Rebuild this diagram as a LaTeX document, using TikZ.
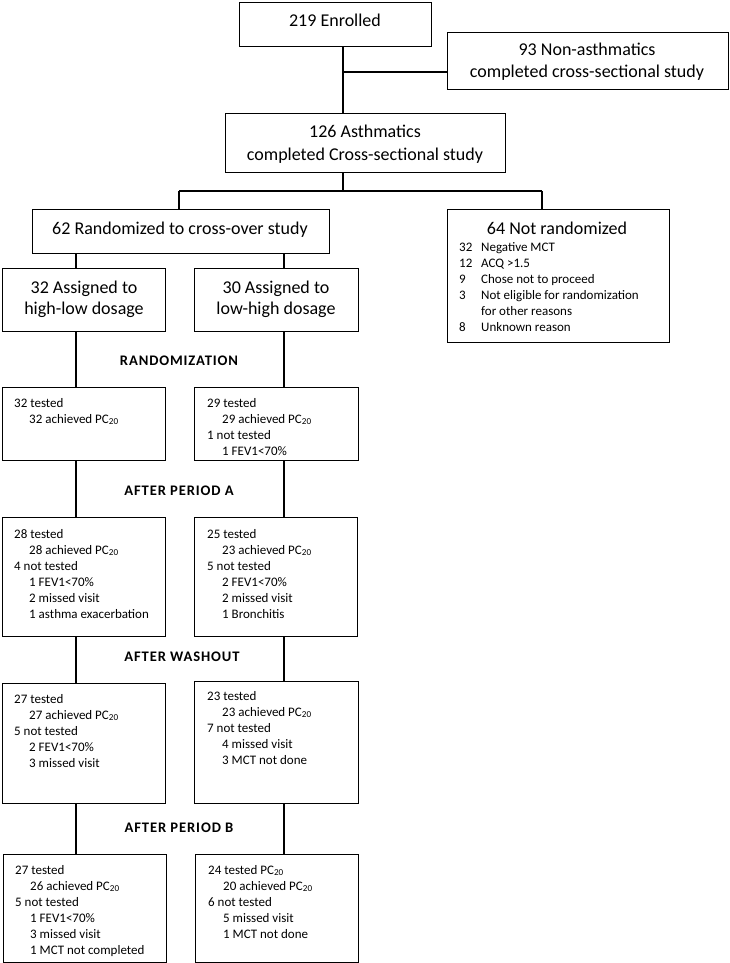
\documentclass[tikz,border=0pt]{standalone}
\usepackage{fontspec}
\setmainfont{Carlito}
\newfontfamily\headfont[LetterSpace=6]{Carlito}
\begin{document}
\begin{tikzpicture}[x=1pt,y=-1pt,
  box/.style={draw, line width=1.1pt, inner sep=0pt, anchor=north west},
  ttl/.style={anchor=base, inner sep=0pt, font=\fontsize{18}{22}\selectfont},
  txt/.style={anchor=base west, inner sep=0pt, font=\fontsize{13}{16}\selectfont},
  hd/.style={anchor=base, inner sep=0pt, font=\headfont\bfseries\fontsize{14.6}{17}\selectfont},
  conn/.style={line width=1.2pt}]
\useasboundingbox (0,0) rectangle (729,963);
% top boxes
\node[box, minimum width=192pt, minimum height=44pt] (E219) at (239,2) {};
\node[box, minimum width=281pt, minimum height=57pt] (N93) at (447,32) {};
\node[box, minimum width=280pt, minimum height=59pt] (A126) at (225,113) {};
\node[box, minimum width=297pt, minimum height=44pt] (R62) at (32,209) {};
\node[box, minimum width=222pt, minimum height=133pt] (NR64) at (447,209) {};
\node[box, minimum width=163pt, minimum height=63pt] (A32) at (2,268) {};
\node[box, minimum width=164pt, minimum height=63pt] (A30) at (194,268) {};
% column boxes
\node[box, minimum width=163pt, minimum height=73pt] (L1) at (2,387) {};
\node[box, minimum width=164pt, minimum height=73pt] (R1) at (194,387) {};
\node[box, minimum width=163pt, minimum height=119pt] (L2) at (2,517) {};
\node[box, minimum width=163pt, minimum height=119pt] (R2) at (194,517) {};
\node[box, minimum width=163pt, minimum height=120pt] (L3) at (2,683) {};
\node[box, minimum width=164pt, minimum height=122pt] (R3) at (194,681) {};
\node[box, minimum width=163pt, minimum height=108pt] (L4) at (3,854) {};
\node[box, minimum width=163pt, minimum height=108pt] (R4) at (195,854) {};
% titles
\node[ttl] (tE) at (335,27) {219 Enrolled};
\node[ttl] (tN1) at (587,56) {93 Non-asthmatics};
\node[ttl] (tN2) at (587,78) {completed cross-sectional study};
\node[ttl] (tA1) at (365,137) {126 Asthmatics};
\node[ttl] (tA2) at (365,160) {completed Cross-sectional study};
\node[ttl] (tR) at (180,234) {62 Randomized to cross-over study};
\node[ttl] (tNR) at (557,234) {64 Not randomized};
\node[ttl] (tA321) at (84,293) {32 Assigned to};
\node[ttl] (tA322) at (84,314) {high-low dosage};
\node[ttl] (tA301) at (276,293) {30 Assigned to};
\node[ttl] (tA302) at (276,314) {low-high dosage};
% not randomized list
\node[txt] (n1a) at (459,251) {32}; \node[txt] (n1b) at (481,251) {Negative MCT};
\node[txt] (n2a) at (459,267) {12}; \node[txt] (n2b) at (481,267) {ACQ >1.5};
\node[txt] (n3a) at (459,283) {9}; \node[txt] (n3b) at (481,283) {Chose not to proceed};
\node[txt] (n4a) at (459,299) {3}; \node[txt] (n4b) at (481,299) {Not eligible for randomization};
\node[txt] (n5b) at (481,315) {for other reasons};
\node[txt] (n6a) at (459,331) {8}; \node[txt] (n6b) at (481,331) {Unknown reason};
% headings
\node[hd] (h1) at (179,365) {RANDOMIZATION};
\node[hd] (h2) at (179,495) {AFTER PERIOD A};
\node[hd] (h3) at (182,661) {AFTER WASHOUT};
\node[hd] (h4) at (179,832) {AFTER PERIOD B};
% box L1
\node[txt] (l1a) at (14,407) {32 tested};
\node[txt] (l1b) at (29,423) {32 achieved PC\textsubscript{20}};
% box R1
\node[txt] (r1a) at (207,407) {29 tested};
\node[txt] (r1b) at (222,423) {29 achieved PC\textsubscript{20}};
\node[txt] (r1c) at (207,439) {1 not tested};
\node[txt] (r1d) at (222,455) {1 FEV1<70\%};
% box L2
\node[txt] (l2a) at (14,538) {28 tested};
\node[txt] (l2b) at (29,554) {28 achieved PC\textsubscript{20}};
\node[txt] (l2c) at (14,570) {4 not tested};
\node[txt] (l2d) at (29,586) {1 FEV1<70\%};
\node[txt] (l2e) at (29,602) {2 missed visit};
\node[txt] (l2f) at (29,618) {1 asthma exacerbation};
% box R2
\node[txt] (r2a) at (207,538) {25 tested};
\node[txt] (r2b) at (222,554) {23 achieved PC\textsubscript{20}};
\node[txt] (r2c) at (207,570) {5 not tested};
\node[txt] (r2d) at (222,586) {2 FEV1<70\%};
\node[txt] (r2e) at (222,602) {2 missed visit};
\node[txt] (r2f) at (222,618) {1 Bronchitis};
% box L3
\node[txt] (l3a) at (14,703) {27 tested};
\node[txt] (l3b) at (29,719) {27 achieved PC\textsubscript{20}};
\node[txt] (l3c) at (14,735) {5 not tested};
\node[txt] (l3d) at (29,751) {2 FEV1<70\%};
\node[txt] (l3e) at (29,767) {3 missed visit};
% box R3
\node[txt] (r3a) at (207,700) {23 tested};
\node[txt] (r3b) at (222,716) {23 achieved PC\textsubscript{20}};
\node[txt] (r3c) at (207,732) {7 not tested};
\node[txt] (r3d) at (222,748) {4 missed visit};
\node[txt] (r3e) at (222,764) {3 MCT not done};
% box L4
\node[txt] (l4a) at (15,874) {27 tested};
\node[txt] (l4b) at (30,890) {26 achieved PC\textsubscript{20}};
\node[txt] (l4c) at (15,906) {5 not tested};
\node[txt] (l4d) at (30,922) {1 FEV1<70\%};
\node[txt] (l4e) at (30,938) {3 missed visit};
\node[txt] (l4f) at (30,954) {1 MCT not completed};
% box R4
\node[txt] (r4a) at (208,874) {24 tested PC\textsubscript{20}};
\node[txt] (r4b) at (223,890) {20 achieved PC\textsubscript{20}};
\node[txt] (r4c) at (208,906) {6 not tested};
\node[txt] (r4d) at (223,922) {5 missed visit};
\node[txt] (r4e) at (223,938) {1 MCT not done};
% connectors
\coordinate (trunk) at (343,0);
\coordinate (br) at (343,72);
\coordinate (sp) at (343,191);
\coordinate (spL) at (179,191);
\coordinate (spR) at (542,191);
\coordinate (colL) at (76,0);
\coordinate (colR) at (284,0);
\draw[conn] (E219.south -| trunk) -- (A126.north -| trunk);
\draw[conn] (br) -- (br -| N93.west);
\draw[conn] (A126.south -| trunk) -- (sp);
\draw[conn] (spL) -- (spR);
\draw[conn] (spL) -- (R62.north -| spL);
\draw[conn] (spR) -- (NR64.north -| spR);
\draw[conn] (R62.south -| colL) -- (A32.north -| colL);
\draw[conn] (R62.south -| colR) -- (A30.north -| colR);
\draw[conn] (A32.south -| colL) -- (L1.north -| colL);
\draw[conn] (A30.south -| colR) -- (R1.north -| colR);
\draw[conn] (L1.south -| colL) -- (L2.north -| colL);
\draw[conn] (R1.south -| colR) -- (R2.north -| colR);
\draw[conn] (L2.south -| colL) -- (L3.north -| colL);
\draw[conn] (R2.south -| colR) -- (R3.north -| colR);
\draw[conn] (L3.south -| colL) -- (L4.north -| colL);
\draw[conn] (R3.south -| colR) -- (R4.north -| colR);
\end{tikzpicture}
\end{document}
